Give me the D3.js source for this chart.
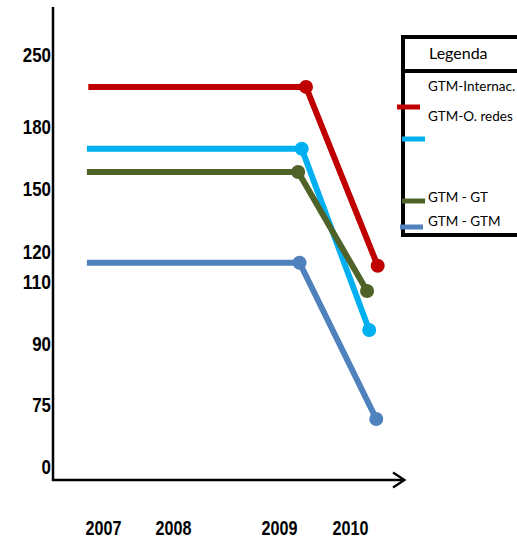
<!DOCTYPE html>
<html>
<head>
<meta charset="utf-8">
<script src="https://cdn.jsdelivr.net/npm/d3@7"></script>
<style>
  html, body { margin: 0; padding: 0; background: #fff; }
  svg { display: block; }
</style>
</head>
<body>
<svg id="chart" width="517" height="543"></svg>
<script>
// ---- data ----
const yearTicks = [2007, 2008, 2009, 2010];
const yTicks = [0, 75, 90, 110, 120, 150, 180, 250];
const seriesNames = ["GTM-Internac.", "GTM-O. redes", "GTM - GT", "GTM - GTM"];
const seriesColors = ["#C00000", "#00B0F0", "#4F6228", "#4F81BD"];
// x positions (fractional years, as drawn) for start, mid and end of each line
const startX = [2006.79, 2006.77, 2006.77, 2006.77];
const midX   = [2009.38, 2009.32, 2009.27, 2009.29];
const endX   = [2010.39, 2010.27, 2010.24, 2010.37];
// values
const before = [219, 169.5, 158.2, 116.4];
const after  = [115.4, 94.5, 107.1, 58];

// ---- scales (the original axis is non-uniform) ----
const x = d3.scaleLinear().domain(yearTicks).range([103, 173, 279, 350]);
const y = d3.scaleLinear().domain(yTicks).range([467, 405, 344, 282, 252, 189, 127, 55]);

const svg = d3.select("#chart");

// axis lines
svg.append("line").attr("x1", 53).attr("x2", 53).attr("y1", 7).attr("y2", 481)
  .attr("stroke", "#000").attr("stroke-width", 2.5);
svg.append("line").attr("x1", 52).attr("x2", 404).attr("y1", 480).attr("y2", 480)
  .attr("stroke", "#000").attr("stroke-width", 2.5);
svg.append("path").attr("d", "M393,472.5 L404.5,480 L393,487.5")
  .attr("fill", "none").attr("stroke", "#000").attr("stroke-width", 2.2);

// y axis labels
const yAxis = d3.axisLeft(y).tickValues(yTicks).tickSize(0).tickPadding(2).tickFormat(d3.format("d"));
const gy = svg.append("g").attr("transform", "translate(53,0)").call(yAxis);
gy.select(".domain").remove();
gy.selectAll("text")
  .attr("font-family", "'Liberation Sans', Arial, sans-serif")
  .attr("font-weight", "bold").attr("font-size", 21).attr("fill", "#000")
  .attr("textLength", d => String(d).length * 9.4)
  .attr("lengthAdjust", "spacingAndGlyphs");

// x axis labels
const xAxis = d3.axisBottom(x).tickValues(yearTicks).tickSize(0).tickPadding(41).tickFormat(d3.format("d"));
const gx = svg.append("g").attr("transform", "translate(0,480)").call(xAxis);
gx.select(".domain").remove();
gx.selectAll("text")
  .attr("font-family", "'Liberation Sans', Arial, sans-serif")
  .attr("font-weight", "bold").attr("font-size", 20).attr("fill", "#000")
  .attr("textLength", 36)
  .attr("lengthAdjust", "spacingAndGlyphs");

// series lines
const line = d3.line().x(d => x(d[0])).y(d => y(d[1]));
seriesNames.forEach((name, i) => {
  const pts = [[startX[i], before[i]], [midX[i], before[i]], [endX[i], after[i]]];
  svg.append("path").datum(pts)
    .attr("d", line)
    .attr("fill", "none")
    .attr("stroke", seriesColors[i])
    .attr("stroke-width", 6)
    .attr("stroke-linejoin", "round");
  svg.selectAll(null).data(pts.slice(1)).enter().append("circle")
    .attr("cx", d => x(d[0])).attr("cy", d => y(d[1])).attr("r", 7)
    .attr("fill", seriesColors[i]);
});

// legend
const lg = svg.append("g");
lg.append("path").attr("d", "M530,37 L403,37 L403,235 L530,235")
  .attr("fill", "none").attr("stroke", "#000").attr("stroke-width", 4);
lg.append("line").attr("x1", 403).attr("x2", 530).attr("y1", 71).attr("y2", 71)
  .attr("stroke", "#000").attr("stroke-width", 4);
lg.append("text").attr("x", 429).attr("y", 59).text("Legenda")
  .attr("font-family", "Lato, sans-serif").attr("font-size", 16).attr("fill", "#000");

const legTextY = [91, 121, 202, 226];
const legSwY = [107, 139, 201, 227];
const legSwX = [397, 402, 402, 400];
seriesNames.forEach((name, i) => {
  lg.append("text").attr("x", 428).attr("y", legTextY[i]).text(name)
    .attr("font-family", "Lato, sans-serif").attr("font-size", 13.5).attr("fill", "#000");
  lg.append("line").attr("x1", legSwX[i]).attr("x2", legSwX[i] + 23)
    .attr("y1", legSwY[i]).attr("y2", legSwY[i])
    .attr("stroke", seriesColors[i]).attr("stroke-width", 5);
});
</script>
</body>
</html>
